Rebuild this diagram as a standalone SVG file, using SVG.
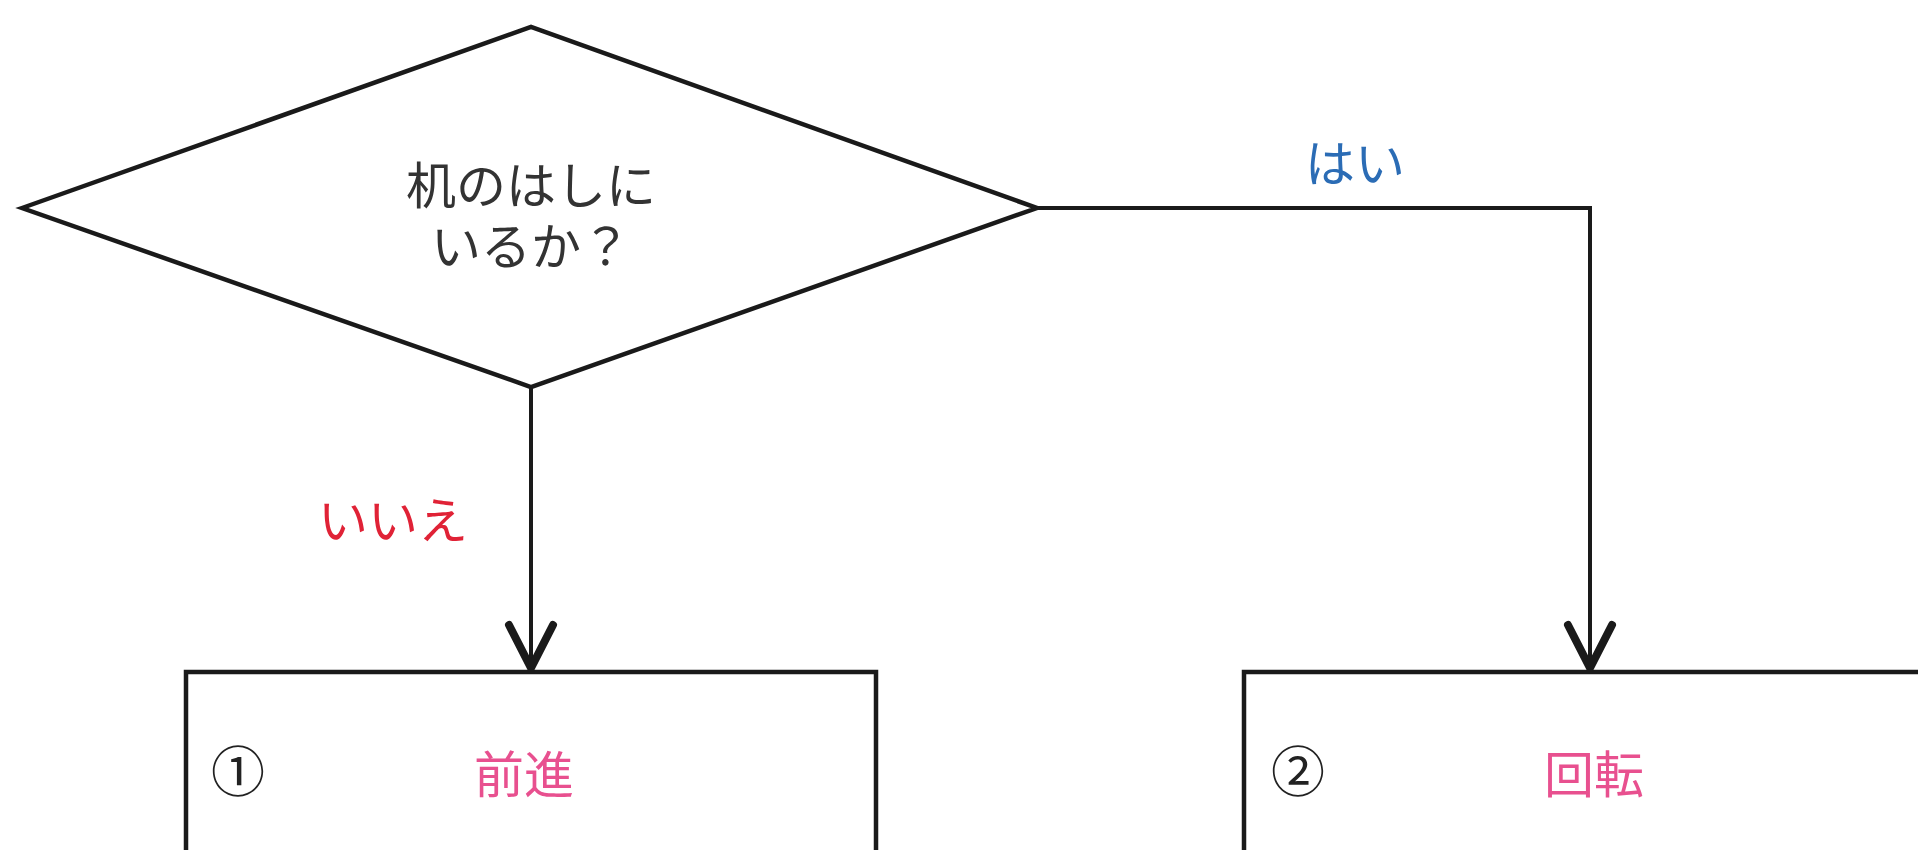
<svg xmlns="http://www.w3.org/2000/svg" width="1918" height="850" viewBox="0 0 1918 850">
  <style>
    .shape { fill: #ffffff; stroke: #1a1a1a; stroke-width: 4.5; stroke-linejoin: miter; }
    .conn { fill: none; stroke: #1a1a1a; stroke-width: 4; }
    .txt { font-family: "Noto Sans CJK JP", "Noto Sans", sans-serif; font-size: 50px; text-anchor: middle; }
    .q { fill: #333333; }
    .yes { fill: #2b6cb5; }
    .no { fill: #e02236; }
    .act { fill: #e8508f; }
    .num { fill: #222222; font-size: 54px; }
  </style>
  <defs>
    <marker id="vhead" markerUnits="userSpaceOnUse" viewBox="-52 -30 60 60" refX="2" refY="0" markerWidth="60" markerHeight="60" orient="auto">
      <path d="M -43 -22 L 0 0 L -43 22" fill="none" stroke="#1a1a1a" stroke-width="8" stroke-linecap="round" stroke-linejoin="round"/>
    </marker>
  </defs>
  <rect width="1918" height="850" fill="#ffffff"/>

  <g id="connectors">
    <path class="conn" d="M 531 387 L 531 670" marker-end="url(#vhead)"/>
    <path class="conn" d="M 1037 208 L 1590 208 L 1590 670" marker-end="url(#vhead)"/>
    <text class="txt no" x="393" y="539">いいえ</text>
    <text class="txt yes" x="1355" y="182">はい</text>
  </g>

  <g id="decision">
    <polygon class="shape" points="22,208 531,27 1037,208 531,387"/>
    <text class="txt q" x="531" y="204">机のはしに</text>
    <text class="txt q" x="531" y="265">いるか？</text>
  </g>

  <g id="step1">
    <rect class="shape" x="186" y="672" width="690" height="260"/>
    <text class="txt num" x="238" y="792">①</text>
    <text class="txt act" x="524" y="793">前進</text>
  </g>

  <g id="step2">
    <rect class="shape" x="1244" y="672" width="760" height="260"/>
    <text class="txt num" x="1298" y="792">②</text>
    <text class="txt act" x="1594" y="793">回転</text>
  </g>
</svg>
